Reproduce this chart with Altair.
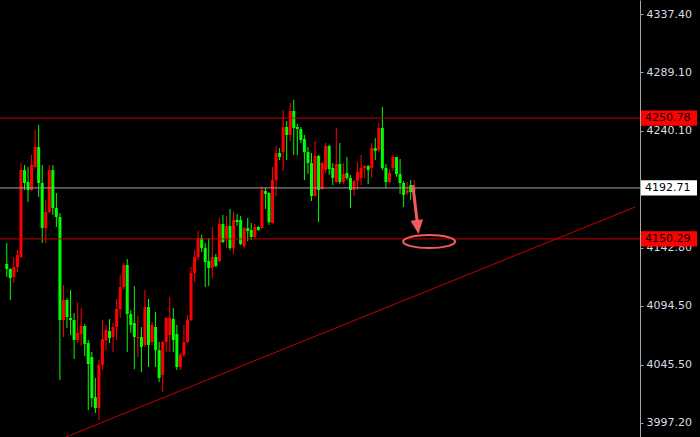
import altair as alt
import pandas as pd

# OHLC candles, oldest first
opens = [4129.4, 4125.2, 4118.6, 4126.9, 4135.2, 4207.6, 4197.6, 4191.0, 4210.1, 4226.7,
         4196.8, 4159.3, 4172.7, 4207.6, 4176.0, 4168.5, 4082.8, 4099.4, 4084.5, 4082.8,
         4066.2, 4071.2, 4077.8, 4063.7, 4052.0, 4018.7, 4009.6, 4045.4, 4066.2, 4073.7,
         4068.7, 4077.0, 4092.0, 4110.3, 4128.6, 4087.8, 4080.3, 4067.8, 4068.7, 4062.0,
         4093.6, 4064.5, 4077.0, 4057.8, 4037.0, 4064.5, 4070.3, 4083.6, 4071.2, 4043.7,
         4053.7, 4064.5, 4082.8, 4121.9, 4135.2, 4151.0, 4142.7, 4131.9, 4126.1, 4135.2,
         4131.9, 4162.7, 4150.2, 4161.0, 4142.7, 4166.0, 4166.0, 4144.4, 4159.3, 4157.7,
         4151.9, 4160.2, 4159.3, 4190.1, 4188.5, 4163.5, 4199.3, 4221.8, 4222.6, 4243.4,
         4236.7, 4256.7, 4243.4, 4241.7, 4233.4, 4222.6, 4213.4, 4186.0, 4219.3, 4191.8,
         4207.6, 4227.6, 4209.3, 4197.6, 4212.6, 4197.6, 4205.1, 4201.0, 4191.0, 4198.5,
         4201.0, 4209.3, 4210.9, 4209.3, 4225.9, 4224.3, 4242.6, 4209.3, 4197.6, 4209.3,
         4218.4, 4204.3, 4196.8, 4188.5, 4195.1, 4191.0]
highs = [4146.9, 4126.0, 4135.2, 4141.0, 4213.4, 4211.8, 4210.1, 4220.1, 4240.9, 4245.0,
         4211.8, 4182.6, 4211.8, 4211.8, 4188.5, 4171.8, 4111.9, 4101.1, 4107.8, 4088.6,
         4097.0, 4092.8, 4079.5, 4066.2, 4056.2, 4034.6, 4049.5, 4082.8, 4078.7, 4083.6,
         4080.3, 4100.3, 4120.3, 4130.2, 4133.6, 4091.1, 4111.1, 4086.1, 4077.0, 4107.8,
         4100.3, 4081.1, 4089.5, 4064.5, 4065.3, 4085.3, 4101.9, 4092.8, 4078.7, 4055.4,
         4078.7, 4087.0, 4126.9, 4141.0, 4156.8, 4153.5, 4146.9, 4151.0, 4160.2, 4137.7,
         4167.7, 4170.2, 4169.3, 4175.2, 4172.7, 4171.0, 4169.3, 4160.2, 4167.7, 4163.5,
         4162.7, 4161.0, 4194.3, 4192.6, 4189.3, 4210.1, 4227.6, 4225.9, 4257.5, 4248.4,
         4263.4, 4265.9, 4245.9, 4243.4, 4236.7, 4226.7, 4221.8, 4231.7, 4220.1, 4214.3,
         4230.1, 4228.4, 4213.4, 4242.6, 4230.1, 4213.4, 4218.4, 4203.5, 4199.3, 4214.3,
         4220.1, 4211.8, 4211.8, 4230.1, 4234.2, 4246.7, 4260.0, 4212.6, 4208.4, 4220.1,
         4218.4, 4216.8, 4198.5, 4197.6, 4199.3, 4199.3]
lows = [4118.6, 4099.4, 4113.6, 4122.7, 4134.5, 4191.0, 4181.0, 4190.1, 4209.3, 4185.2,
        4146.9, 4146.9, 4171.8, 4170.2, 4160.2, 4032.9, 4068.7, 4076.2, 4070.3, 4050.4,
        4063.7, 4061.2, 4052.9, 4007.9, 4010.4, 4005.4, 3999.6, 4041.2, 4057.8, 4063.7,
        4056.2, 4066.2, 4084.5, 4107.8, 4056.2, 4072.0, 4042.0, 4052.0, 4039.5, 4060.4,
        4043.7, 4062.0, 4043.7, 4031.2, 4022.9, 4056.2, 4056.2, 4056.2, 4041.2, 4041.2,
        4052.0, 4063.7, 4082.0, 4114.4, 4132.7, 4139.4, 4110.3, 4111.1, 4117.8, 4126.9,
        4131.0, 4146.9, 4142.7, 4141.0, 4137.7, 4161.0, 4145.2, 4142.7, 4148.5, 4149.4,
        4151.0, 4156.9, 4158.5, 4175.2, 4161.9, 4163.0, 4186.0, 4215.9, 4206.8, 4215.9,
        4231.7, 4220.1, 4220.1, 4230.1, 4199.3, 4204.3, 4181.8, 4185.5, 4164.3, 4191.0,
        4205.1, 4203.5, 4195.1, 4196.8, 4196.0, 4196.0, 4199.3, 4176.0, 4186.0, 4191.0,
        4195.1, 4201.0, 4196.0, 4201.0, 4215.9, 4222.6, 4207.6, 4192.6, 4196.8, 4206.8,
        4201.8, 4187.6, 4176.8, 4186.8, 4182.7, 4189.3]
closes = [4125.2, 4117.8, 4126.9, 4136.9, 4207.6, 4196.8, 4191.0, 4211.8, 4226.7, 4196.8,
          4159.3, 4172.7, 4207.6, 4176.0, 4168.5, 4082.8, 4099.4, 4085.3, 4082.8, 4066.2,
          4072.0, 4077.8, 4062.8, 4046.2, 4017.9, 4009.6, 4045.4, 4067.0, 4074.5, 4067.8,
          4077.0, 4092.0, 4110.3, 4128.6, 4087.8, 4078.7, 4068.7, 4068.7, 4060.4, 4093.6,
          4062.0, 4078.7, 4057.8, 4034.6, 4064.5, 4084.5, 4084.5, 4066.2, 4043.7, 4053.7,
          4064.5, 4082.8, 4121.9, 4135.2, 4151.0, 4142.7, 4131.0, 4126.1, 4135.2, 4127.7,
          4162.7, 4147.7, 4161.0, 4142.7, 4166.0, 4164.3, 4146.0, 4159.3, 4156.9, 4151.9,
          4160.2, 4157.7, 4191.0, 4187.6, 4164.3, 4199.3, 4221.8, 4218.4, 4243.4, 4236.7,
          4256.7, 4242.6, 4241.7, 4232.6, 4222.6, 4213.4, 4186.0, 4219.3, 4191.0, 4213.4,
          4227.6, 4208.4, 4201.0, 4212.6, 4197.6, 4204.3, 4201.0, 4191.0, 4198.5, 4206.0,
          4209.3, 4210.9, 4207.6, 4225.9, 4223.4, 4242.6, 4209.3, 4197.6, 4205.1, 4218.4,
          4204.3, 4196.8, 4186.8, 4191.0, 4189.3, 4192.71]

# Horizontal price levels with their axis tags
level_prices = [4250.78, 4192.71, 4150.29]
level_colors = ["#c40000", "#9ea6aa", "#c40000"]
tag_fills = ["#ff0000", "#ffffff", "#ff0000"]

# Right-hand price scale labels
axis_ticks = [4337.40, 4289.10, 4240.10, 4142.80, 4094.50, 4045.50, 3997.20]

# Rising support line, as (bar index, price) anchors
trend_bars = [16.7, 177.3]
trend_prices = [3985.5, 4176.8]

# Arrow pointing down into the target zone
arrow_bars = [114.6, 115.9]
arrow_prices = [4195.1, 4162.7]
arrow_tip_bar = [115.95]
arrow_tip_price = [4160.2]
target_bar = [119.2]
target_price = [4148.1]

UP = "#ff0000"
DOWN = "#00ff00"
MARK = "#f25c5c"
FONT = "DejaVu Sans"

candles = pd.DataFrame({
    "i": list(range(len(opens))),
    "open": opens, "high": highs, "low": lows, "close": closes,
})
candles["color"] = [UP if c >= o else DOWN for o, c in zip(opens, closes)]

levels = pd.DataFrame({
    "price": level_prices,
    "line": level_colors,
    "fill": tag_fills,
    "label": [f"{p:.2f}" for p in level_prices],
})
trend = pd.DataFrame({"bar": trend_bars, "price": trend_prices})
arrow = pd.DataFrame({"b0": [arrow_bars[0]], "b1": [arrow_bars[1]],
                      "p0": [arrow_prices[0]], "p1": [arrow_prices[1]]})
tip = pd.DataFrame({"bar": arrow_tip_bar, "price": arrow_tip_price})
target = pd.DataFrame({"bar": target_bar, "price": target_price})

xs = alt.Scale(domain=[-0.5, 177.3], nice=False, zero=False)
ys = alt.Scale(domain=[3985.5, 4349.05], nice=False, zero=False)
price_axis = alt.Axis(values=axis_ticks, format=".2f", orient="right", title=None,
                      grid=False, labelOverlap=False)


def X(field):
    return alt.X(f"{field}:Q", scale=xs, axis=None)


def Y(field):
    return alt.Y(f"{field}:Q", scale=ys, axis=price_axis)


wicks = alt.Chart(candles).mark_rule(strokeWidth=1).encode(
    x=X("i"), y=Y("low"), y2="high", color=alt.Color("color:N", scale=None))

bodies = alt.Chart(candles).mark_bar(size=3).encode(
    x=X("i"), y=Y("open"), y2="close", color=alt.Color("color:N", scale=None))

level_lines = alt.Chart(levels).mark_rule(strokeWidth=1).encode(
    y=Y("price"), color=alt.Color("line:N", scale=None))

trend_line = alt.Chart(trend).mark_line(strokeWidth=1, color="#c40000").encode(
    x=X("bar"), y=Y("price"))

arrow_shaft = alt.Chart(arrow).mark_rule(strokeWidth=3, color=MARK).encode(
    x=X("b0"), x2="b1", y=Y("p0"), y2="p1")

arrow_head = alt.Chart(tip).mark_point(
    shape="M -0.45 -0.5 L 0.45 -0.5 L 0 0.5 Z", filled=True, size=784, angle=353,
    color=MARK, opacity=1).encode(x=X("bar"), y=Y("price"))

target_ring = alt.Chart(target).mark_point(
    shape="M -1 0 A 1 0.25 0 1 1 1 0 A 1 0.25 0 1 1 -1 0 Z", filled=False,
    size=2704, strokeWidth=2, color=MARK, opacity=1).encode(x=X("bar"), y=Y("price"))

tags = alt.Chart(levels).mark_point(
    shape="M -1 -0.27 L 1 -0.27 L 1 0.27 L -1 0.27 Z", filled=True, size=3136,
    opacity=1, strokeWidth=0).encode(
    x=alt.value(669), y=Y("price"), fill=alt.Fill("fill:N", scale=None))

tag_text = alt.Chart(levels).mark_text(
    align="left", baseline="middle", font=FONT, fontSize=11, color="#000000").encode(
    x=alt.value(645), y=Y("price"), text="label:N")

chart = alt.layer(
    wicks, bodies, level_lines, trend_line, arrow_shaft, arrow_head, target_ring,
    tags, tag_text,
).properties(
    width=640, height=437,
    padding={"left": 0, "top": 0, "right": 60, "bottom": 0},
    autosize=alt.AutoSizeParams(type="none"),
).configure(
    background="#000000",
).configure_view(
    stroke=None,
).configure_axis(
    domainColor="#a4a8ac", tickColor="#a4a8ac", tickSize=3, labelPadding=3,
    labelColor="#d8dce0", labelFont=FONT, labelFontSize=11,
)

chart.save("out.html", embed_options={"renderer": "svg", "actions": False})
